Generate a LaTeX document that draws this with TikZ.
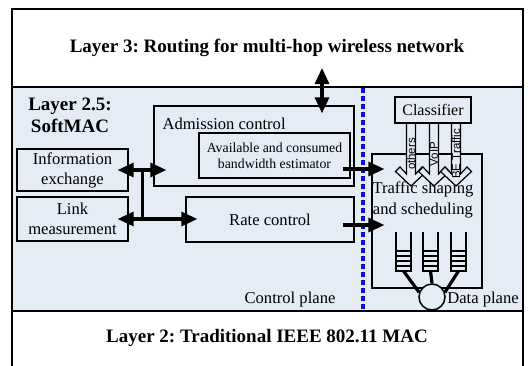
\documentclass[tikz,border=0pt]{standalone}
\usepackage{fontspec}
\setmainfont{Liberation Serif}
\newfontfamily\labelfont{Liberation Sans}
\usetikzlibrary{arrows.meta}
\frenchspacing

\definecolor{softbg}{RGB}{229,236,246}
\definecolor{planeblue}{RGB}{10,10,240}

\begin{document}
\begin{tikzpicture}[x=1pt, y=-1pt, >={Triangle[length=16pt,width=14pt]},
		box/.style={draw, line width=1.3pt, inner sep=0pt},
		txt/.style={font=\fontsize{16.6}{20}\selectfont, align=center},
		head/.style={font=\fontsize{19}{22}\selectfont\bfseries, align=center},
		fat/.style={line width=3.2pt}]
		
		\useasboundingbox (0,0) rectangle (528,365);
		
		% --- Rahmen und Schichten
		\fill[softbg] (12,87) rectangle (523,311);
		\draw[line width=1.5pt] (12,370) -- (12,9) -- (523,9) -- (523,370);
		\draw[line width=1.5pt] (12,87) -- (523,87) (12,311) -- (523,311);
		
		\node[head] (l3) at (267,48) {Layer 3: Routing for multi-hop wireless network};
		\node[head] (l25) at (70,115) {Layer 2.5:\\SoftMAC};
		\node[head] (l2) at (267,338) {Layer 2: Traditional IEEE 802.11 MAC};
		
		% --- Control plane
		\node[box, minimum width=200pt, minimum height=80pt] (adm) at (254,146) {};
		\node[txt, anchor=west] (admtxt) at (159,124) {Admission control};
		\node[box, minimum width=151pt, minimum height=45pt, font=\fontsize{13.8}{16}\selectfont, align=center] (est) at (274.5,155.5) {Available and consumed\\bandwidth estimator};
		\node[box, txt, minimum width=168pt, minimum height=45pt] (rate) at (270,219.5) {Rate control};
		\node[box, txt, minimum width=111pt, minimum height=42pt] (info) at (72.5,170) {Information\\exchange};
		\node[box, txt, minimum width=111pt, minimum height=44pt] (link) at (72.5,219) {Link\\measurement};
		\node[txt] (cplane) at (290,300) {Control plane};
		
		% Trennlinie
		\draw[planeblue, line width=3.2pt, dash pattern=on 5pt off 3pt] (363,88) -- (363,311);
		
		% --- Data plane
		\node[box, minimum width=110pt, minimum height=134pt] (trf) at (427,221) {};
		\node[txt, font=\fontsize{16.6}{21}\selectfont] (trftxt) at (423,200) {Traffic shaping\\and scheduling};
		\node[box, font=\fontsize{16}{19}\selectfont, minimum width=76pt, minimum height=26pt] (cls) at (433,110) {Classifier};
		\node[txt] (dplane) at (483,300) {Data plane};
		
		% Klassen-Pfeile
		\foreach \c/\t in {411/others, 434/VoIP, 456/BE Traffic} {
			\draw[line width=1.2pt, fill=softbg] (\c-4.5,124) -- (\c-4.5,174) -- (\c-11,167) -- (\c-15.5,171.5) -- (\c,186)
				-- (\c+15.5,171.5) -- (\c+11,167) -- (\c+4.5,174) -- (\c+4.5,124);
			\node[rotate=90, inner sep=0pt, font=\labelfont\fontsize{11.5}{12}\selectfont] (lbl\c) at (\c,154) {\t};
		}
		
		% Warteschlangen
		\foreach \q [count=\i] in {396,423,451} {
			\draw[line width=1.3pt] (\q,232) -- (\q,271) -- (\q+15,271) -- (\q+15,232);
			\foreach \y in {251,256,261,266}
				\draw[line width=1.3pt] (\q,\y) -- (\q+15,\y);
			\coordinate (q\i) at (\q+7.5,271);
		}
		\node[draw, circle, line width=1.5pt, fill=softbg, minimum size=26pt, inner sep=0pt] (sched) at (432,297) {};
		\draw[fat] (q1) -- (sched.160);
		\draw[fat] (q2) -- (sched.north);
		\draw[fat] (q3) -- (sched.20);
		
		% --- Pfeile
		\coordinate (l3port) at (322,68);
		\draw[fat, <->, shorten >=-8pt] (l3port) -- (l3port |- adm.north);
		
		\draw[fat, <->, shorten <=-11pt, shorten >=-13pt] (info.east) -- (info.east -| adm.west);
		\draw[fat, <->, shorten <=-11pt, shorten >=-12pt] (link.east) -- (link.east -| rate.west);
		\path (info.east) ++(14,0) coordinate (b1);
		\path (link.east) ++(14,0) coordinate (b2);
		\draw[fat, line cap=rect] (b1) -- (b2);
		
		\coordinate (e1) at ([yshift=-13.5pt]est.east);
		\coordinate (r1) at ([yshift=-5.5pt]rate.east);
		\draw[fat, ->, shorten <=-8pt, shorten >=-13pt] (e1) -- (e1 -| trf.west);
		\draw[fat, ->, shorten <=-12pt, shorten >=-13pt] (r1) -- (r1 -| trf.west);
		
	\end{tikzpicture}
\end{document}
